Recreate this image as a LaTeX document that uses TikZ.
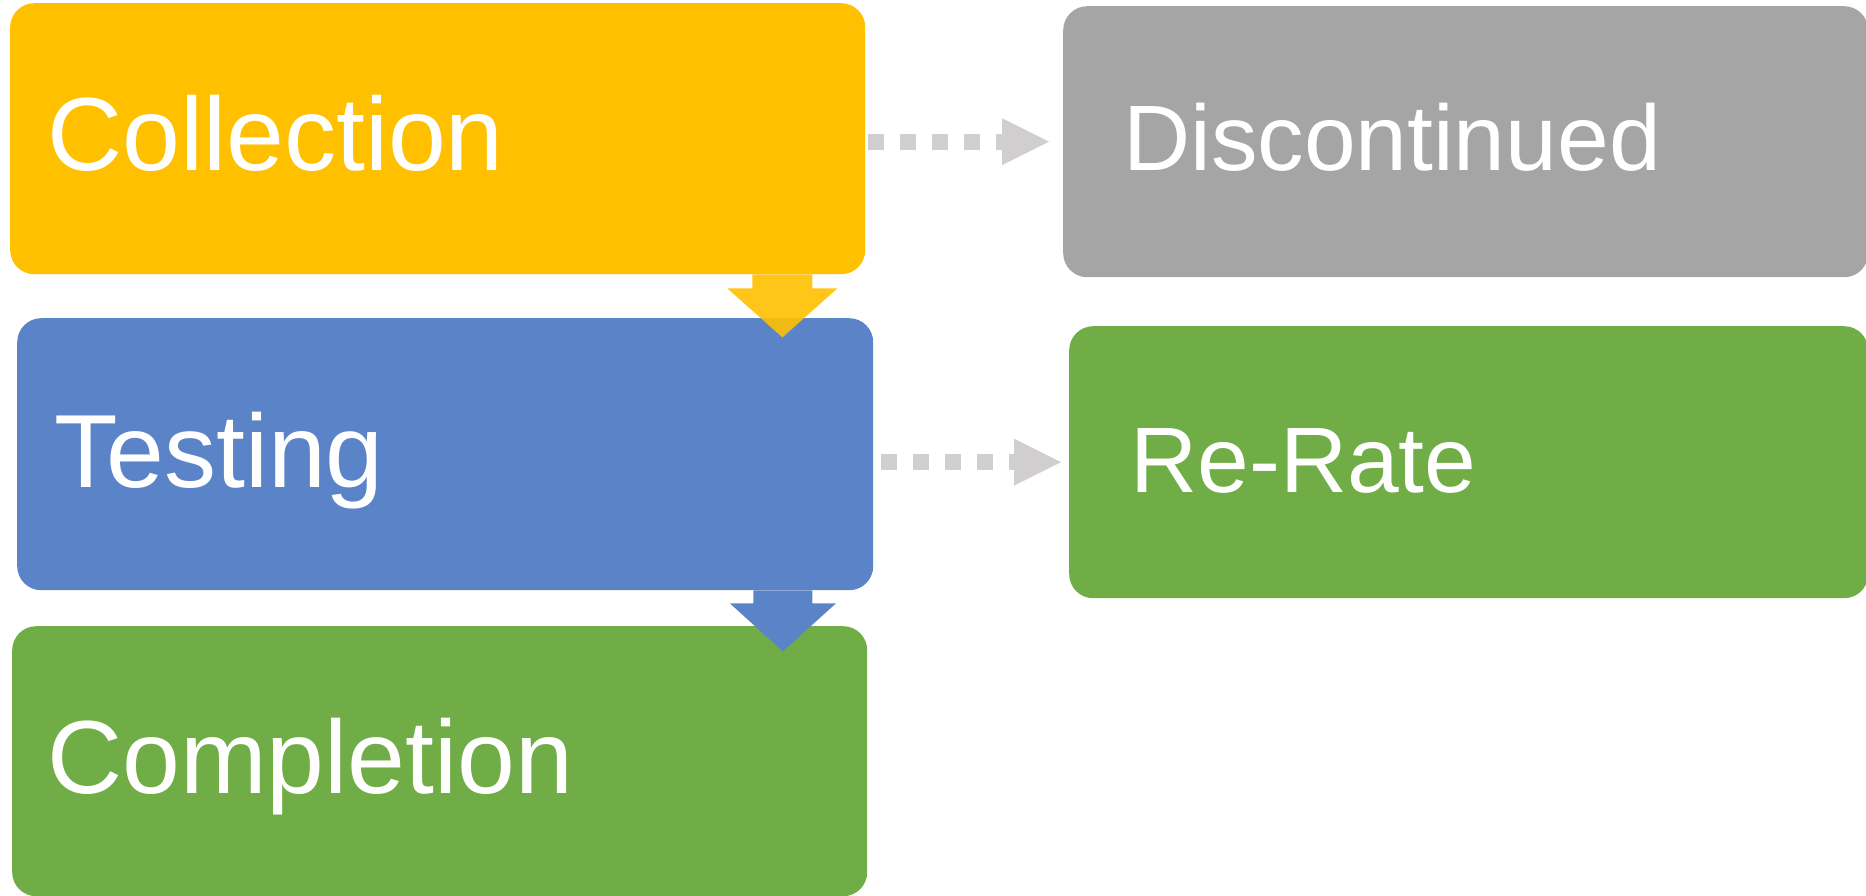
\documentclass[tikz,border=0pt]{standalone}
\usepackage{fontspec}
\setmainfont{Liberation Sans}
\usetikzlibrary{arrows.meta,calc}
\definecolor{cYellow}{HTML}{FFC000}
\definecolor{cBlue}{HTML}{5B84C8}
\definecolor{cGrey}{HTML}{A5A5A5}
\definecolor{cGreen}{HTML}{70AD47}
\definecolor{cDot}{HTML}{D0CECE}
\tikzset{
  box/.style={rectangle, rounded corners=24pt, inner sep=0pt, anchor=north west, draw=none},
  leftbox/.style={box, minimum width=855pt, minimum height=271pt},
  txtbig/.style={anchor=base west, inner sep=0pt, text=white, font=\fontsize{104}{110}\selectfont},
  txtsmall/.style={anchor=base west, inner sep=0pt, text=white, font=\fontsize{93}{100}\selectfont},
  dotarrow/.style={draw=cDot, line width=16pt, line cap=butt, dash pattern=on 16pt off 16pt,
     -{Triangle[length=47pt, width=47pt, line width=0pt]}},
}
\begin{document}
\begin{tikzpicture}[x=1pt, y=-1pt]
\useasboundingbox (0,0) rectangle (1866,896);
% boxes
\node[leftbox, fill=cYellow] (coll) at (10,3) {};
\node[box, fill=cGrey, minimum width=805pt, minimum height=271pt] (disc) at (1063,6) {};
\node[leftbox, fill=cBlue, minimum width=856pt, minimum height=272pt] (test) at (17,318) {};
\node[box, fill=cGreen, minimum width=799pt, minimum height=272pt] (rr) at (1069,326) {};
\node[leftbox, fill=cGreen, minimum height=270pt] (comp) at (12,626) {};
% texts
\node[txtbig] (collT) at (47,171) {Collection};
\node[txtsmall] (discT) at (1123,171) {Discontinued};
\node[txtbig] (testT) at (54,487) {Testing};
\node[txtsmall] (rrT) at (1130,492) {Re-Rate};
\node[txtbig] (compT) at (47,793) {Completion};
% block arrows
\coordinate (a1s) at ($(coll.south east)+(-83,0)$);
\coordinate (a1t) at ($(a1s)+(0,63)$);
\fill[cYellow, fill opacity=0.9] ($(a1s)+(-30,0)$) -- ($(a1s)+(30,0)$) -- ($(a1s)+(30,14)$)
  -- ($(a1s)+(55,14)$) -- (a1t) -- ($(a1s)+(-55,14)$) -- ($(a1s)+(-30,14)$) -- cycle;
\coordinate (a2s) at ($(test.south east)+(-90.5,0)$);
\coordinate (a2t) at ($(a2s)+(0,61)$);
\fill[cBlue] ($(a2s)+(-29.5,0)$) -- ($(a2s)+(29.5,0)$) -- ($(a2s)+(29.5,13)$)
  -- ($(a2s)+(53,13)$) -- (a2t) -- ($(a2s)+(-53,13)$) -- ($(a2s)+(-29.5,13)$) -- cycle;
% dotted arrows
\draw[dotarrow] ($(coll.east |- disc.west)+(3,0)$) -- ($(disc.west)+(-14,0)$);
\draw[dotarrow] ($(test.east |- rr.west)+(8,0)$) -- ($(rr.west)+(-8,0)$);
\end{tikzpicture}
\end{document}
